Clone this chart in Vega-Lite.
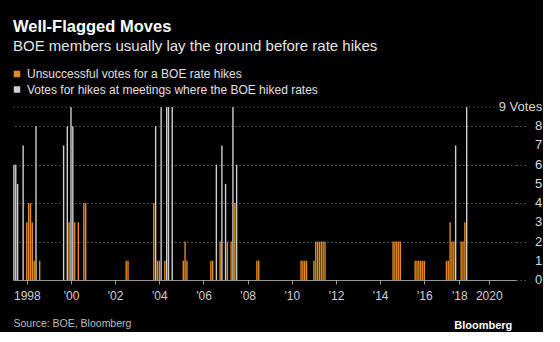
{
  "$schema": "https://vega.github.io/schema/vega-lite/v6.json",
  "width": 503,
  "height": 173,
  "padding": {"left": 12, "top": 19, "right": 0, "bottom": 0},
  "background": "#000000",
  "config": {
    "view": {"stroke": null},
    "font": "Liberation Sans",
    "axis": {"labelOverlap": false}
  },
  "title": {
    "text": "Well-Flagged Moves",
    "subtitle": "BOE members usually lay the ground before rate hikes",
    "anchor": "start",
    "frame": "group",
    "color": "#ffffff",
    "fontSize": 16.5,
    "fontWeight": "bold",
    "subtitleColor": "#e6e6e6",
    "subtitleFontSize": 15,
    "subtitlePadding": 3,
    "offset": 14.5
  },
  "layer": [
    {
      "data": {"values": [
        {"meeting": 0, "votes": 6, "series": "hike"},
        {"meeting": 1, "votes": 6, "series": "hike"},
        {"meeting": 2, "votes": 5, "series": "hike"},
        {"meeting": 5, "votes": 7, "series": "hike"},
        {"meeting": 12, "votes": 8, "series": "hike"},
        {"meeting": 27, "votes": 7, "series": "hike"},
        {"meeting": 29, "votes": 8, "series": "hike"},
        {"meeting": 31, "votes": 9, "series": "hike"},
        {"meeting": 32, "votes": 8, "series": "hike"},
        {"meeting": 77, "votes": 8, "series": "hike"},
        {"meeting": 80, "votes": 9, "series": "hike"},
        {"meeting": 83, "votes": 9, "series": "hike"},
        {"meeting": 84, "votes": 9, "series": "hike"},
        {"meeting": 86, "votes": 9, "series": "hike"},
        {"meeting": 110, "votes": 6, "series": "hike"},
        {"meeting": 113, "votes": 7, "series": "hike"},
        {"meeting": 115, "votes": 5, "series": "hike"},
        {"meeting": 119, "votes": 9, "series": "hike"},
        {"meeting": 121, "votes": 6, "series": "hike"},
        {"meeting": 240, "votes": 7, "series": "hike"},
        {"meeting": 246, "votes": 9, "series": "hike"},
        {"meeting": 7, "votes": 3, "series": "dissent"},
        {"meeting": 8, "votes": 4, "series": "dissent"},
        {"meeting": 9, "votes": 4, "series": "dissent"},
        {"meeting": 10, "votes": 3, "series": "dissent"},
        {"meeting": 11, "votes": 1, "series": "dissent"},
        {"meeting": 14, "votes": 1, "series": "dissent"},
        {"meeting": 30, "votes": 3, "series": "dissent"},
        {"meeting": 33, "votes": 3, "series": "dissent"},
        {"meeting": 35, "votes": 3, "series": "dissent"},
        {"meeting": 38, "votes": 4, "series": "dissent"},
        {"meeting": 39, "votes": 4, "series": "dissent"},
        {"meeting": 61, "votes": 1, "series": "dissent"},
        {"meeting": 62, "votes": 1, "series": "dissent"},
        {"meeting": 76, "votes": 4, "series": "dissent"},
        {"meeting": 78, "votes": 1, "series": "dissent"},
        {"meeting": 79, "votes": 1, "series": "dissent"},
        {"meeting": 82, "votes": 1, "series": "dissent"},
        {"meeting": 92, "votes": 1, "series": "dissent"},
        {"meeting": 93, "votes": 2, "series": "dissent"},
        {"meeting": 94, "votes": 1, "series": "dissent"},
        {"meeting": 107, "votes": 1, "series": "dissent"},
        {"meeting": 108, "votes": 1, "series": "dissent"},
        {"meeting": 112, "votes": 2, "series": "dissent"},
        {"meeting": 116, "votes": 2, "series": "dissent"},
        {"meeting": 118, "votes": 2, "series": "dissent"},
        {"meeting": 120, "votes": 4, "series": "dissent"},
        {"meeting": 132, "votes": 1, "series": "dissent"},
        {"meeting": 133, "votes": 1, "series": "dissent"},
        {"meeting": 156, "votes": 1, "series": "dissent"},
        {"meeting": 157, "votes": 1, "series": "dissent"},
        {"meeting": 158, "votes": 1, "series": "dissent"},
        {"meeting": 159, "votes": 1, "series": "dissent"},
        {"meeting": 163, "votes": 1, "series": "dissent"},
        {"meeting": 164, "votes": 2, "series": "dissent"},
        {"meeting": 165, "votes": 2, "series": "dissent"},
        {"meeting": 166, "votes": 2, "series": "dissent"},
        {"meeting": 167, "votes": 2, "series": "dissent"},
        {"meeting": 168, "votes": 2, "series": "dissent"},
        {"meeting": 169, "votes": 2, "series": "dissent"},
        {"meeting": 206, "votes": 2, "series": "dissent"},
        {"meeting": 207, "votes": 2, "series": "dissent"},
        {"meeting": 208, "votes": 2, "series": "dissent"},
        {"meeting": 209, "votes": 2, "series": "dissent"},
        {"meeting": 210, "votes": 2, "series": "dissent"},
        {"meeting": 218, "votes": 1, "series": "dissent"},
        {"meeting": 219, "votes": 1, "series": "dissent"},
        {"meeting": 220, "votes": 1, "series": "dissent"},
        {"meeting": 221, "votes": 1, "series": "dissent"},
        {"meeting": 222, "votes": 1, "series": "dissent"},
        {"meeting": 223, "votes": 1, "series": "dissent"},
        {"meeting": 235, "votes": 1, "series": "dissent"},
        {"meeting": 236, "votes": 1, "series": "dissent"},
        {"meeting": 237, "votes": 3, "series": "dissent"},
        {"meeting": 238, "votes": 2, "series": "dissent"},
        {"meeting": 239, "votes": 2, "series": "dissent"},
        {"meeting": 243, "votes": 2, "series": "dissent"},
        {"meeting": 244, "votes": 2, "series": "dissent"},
        {"meeting": 245, "votes": 3, "series": "dissent"}
      ]},
      "mark": {"type": "bar", "width": 1.4},
      "encoding": {
        "x": {
          "field": "meeting",
          "type": "quantitative",
          "scale": {"domain": [-0.5, 272.8], "nice": false, "zero": false, "padding": 0},
          "axis": {
            "values": [7, 31, 55, 79, 103, 127, 151, 175, 199, 223, 242, 258],
            "labelExpr": "[\"1998\",\"'00\",\"'02\",\"'04\",\"'06\",\"'08\",\"'10\",\"'12\",\"'14\",\"'16\",\"'18\",\"2020\"][indexof([7,31,55,79,103,127,151,175,199,223,242,258], datum.value)]",
            "grid": false,
            "domainColor": "#9a9a9a",
            "tickColor": "#9a9a9a",
            "tickSize": 4,
            "labelColor": "#d0d0d0",
            "labelFontSize": 12,
            "labelPadding": 6,
            "labelFlush": false,
            "labelOverlap": false,
            "title": "Source: BOE, Bloomberg",
            "titleAnchor": "start",
            "titleAlign": "left",
            "titleColor": "#bdbdbd",
            "titleFontWeight": "normal",
            "titleFontSize": 10.5,
            "titlePadding": 17
          }
        },
        "y": {
          "field": "votes",
          "type": "quantitative",
          "stack": null,
          "scale": {"domain": [0, 9], "nice": false},
          "axis": {
            "orient": "right",
            "values": [0, 1, 2, 3, 4, 5, 6, 7, 8, 9],
            "domain": false,
            "grid": true,
            "gridColor": "#5a5a5a",
            "gridDash": [1.5, 2.5],
            "gridOpacity": {"condition": {"test": "datum.value === 9", "value": 0}, "value": 1},
            "ticks": true,
            "tickSize": 10,
            "tickColor": "#5a5a5a",
            "tickDash": [1.5, 2.5],
            "tickOpacity": {"condition": {"test": "datum.value === 9", "value": 0}, "value": 1},
            "labels": false,
            "title": null
          }
        },
        "color": {
          "field": "series",
          "type": "nominal",
          "scale": {"domain": ["dissent", "hike"], "range": ["#e38b1e", "#cfcfcf"]},
          "legend": {
            "title": null,
            "orient": "top",
            "direction": "vertical",
            "symbolType": "square",
            "symbolSize": 42,
            "symbolStrokeWidth": 0,
            "symbolOffset": -2,
            "labelColor": "#e0e0e0",
            "labelFontSize": 12,
            "labelOffset": 4,
            "labelLimit": 0,
            "rowPadding": 3.5,
            "offset": 11,
            "padding": 0,
            "labelExpr": "datum.label === 'dissent' ? 'Unsuccessful votes for a BOE rate hikes' : 'Votes for hikes at meetings where the BOE hiked rates'"
          }
        }
      }
    },
    {
      "data": {"values": [{"votes": 9}]},
      "mark": {"type": "rule", "color": "#5a5a5a", "strokeDash": [1.5, 2.5]},
      "encoding": {
        "y": {"field": "votes", "type": "quantitative"},
        "x": {"datum": -0.5},
        "x2": {"datum": 262}
      }
    },
    {
      "data": {"values": [
        {"votes": 0, "label": "0"},
        {"votes": 1, "label": "1"},
        {"votes": 2, "label": "2"},
        {"votes": 3, "label": "3"},
        {"votes": 4, "label": "4"},
        {"votes": 5, "label": "5"},
        {"votes": 6, "label": "6"},
        {"votes": 7, "label": "7"},
        {"votes": 8, "label": "8"},
        {"votes": 9, "label": "9 Votes"}
      ]},
      "mark": {"type": "text", "align": "right", "baseline": "middle", "fontSize": 13, "color": "#d8d8d8", "font": "Liberation Sans"},
      "encoding": {
        "text": {"field": "label"},
        "y": {"field": "votes", "type": "quantitative"},
        "x": {"datum": 287}
      }
    },
    {
      "data": {"values": [{"label": "Bloomberg"}]},
      "mark": {"type": "text", "align": "right", "baseline": "alphabetic", "fontWeight": "bold", "fontSize": 11, "color": "#ffffff", "font": "Liberation Sans"},
      "encoding": {
        "text": {"field": "label"},
        "x": {"datum": 270.8},
        "y": {"datum": -2.55}
      }
    }
  ]
}
